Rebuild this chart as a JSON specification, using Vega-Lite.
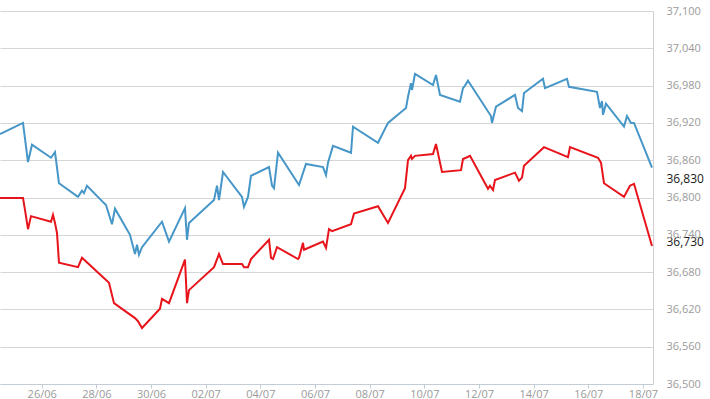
{
  "$schema": "https://vega.github.io/schema/vega-lite/v6.json",
  "width": 653,
  "height": 373,
  "autosize": {"type": "none"},
  "padding": {"left": 0, "top": 11, "right": 57, "bottom": 15},
  "background": "white",
  "config": {"view": {"stroke": null}, "axis": {"labelOverlap": false}},
  "datasets": {
    "ban": [
      {"t": "2024-06-24T11:23", "v": 36902}, {"t": "2024-06-25T07:35", "v": 36920}, {"t": "2024-06-25T11:58", "v": 36857}, {"t": "2024-06-25T15:29", "v": 36885},
      {"t": "2024-06-26T08:10", "v": 36864}, {"t": "2024-06-26T11:41", "v": 36873}, {"t": "2024-06-26T15:11", "v": 36823},
      {"t": "2024-06-27T07:53", "v": 36801}, {"t": "2024-06-27T11:23", "v": 36811}, {"t": "2024-06-27T13:09", "v": 36807}, {"t": "2024-06-27T15:47", "v": 36819},
      {"t": "2024-06-28T06:43", "v": 36791}, {"t": "2024-06-28T08:28", "v": 36788}, {"t": "2024-06-28T13:44", "v": 36757}, {"t": "2024-06-28T16:22", "v": 36782},
      {"t": "2024-06-29T05:32", "v": 36740}, {"t": "2024-06-29T09:56", "v": 36709}, {"t": "2024-06-29T11:41", "v": 36724}, {"t": "2024-06-29T13:26", "v": 36708}, {"t": "2024-06-29T16:05", "v": 36720},
      {"t": "2024-06-30T09:38", "v": 36761}, {"t": "2024-06-30T15:47", "v": 36729},
      {"t": "2024-07-01T05:50", "v": 36783}, {"t": "2024-07-01T07:36", "v": 36732}, {"t": "2024-07-01T09:21", "v": 36759},
      {"t": "2024-07-02T07:19", "v": 36796}, {"t": "2024-07-02T09:56", "v": 36819}, {"t": "2024-07-02T11:42", "v": 36796}, {"t": "2024-07-02T15:13", "v": 36841},
      {"t": "2024-07-03T07:53", "v": 36801}, {"t": "2024-07-03T09:39", "v": 36785}, {"t": "2024-07-03T13:10", "v": 36801}, {"t": "2024-07-03T15:48", "v": 36835},
      {"t": "2024-07-04T07:37", "v": 36849}, {"t": "2024-07-04T10:14", "v": 36819}, {"t": "2024-07-04T12:00", "v": 36815}, {"t": "2024-07-04T15:31", "v": 36872},
      {"t": "2024-07-05T09:57", "v": 36820}, {"t": "2024-07-05T16:06", "v": 36854},
      {"t": "2024-07-06T07:01", "v": 36849}, {"t": "2024-07-06T09:40", "v": 36836}, {"t": "2024-07-06T11:25", "v": 36856}, {"t": "2024-07-06T15:48", "v": 36883},
      {"t": "2024-07-07T07:37", "v": 36872}, {"t": "2024-07-07T09:22", "v": 36914},
      {"t": "2024-07-08T07:19", "v": 36888}, {"t": "2024-07-08T16:06", "v": 36920},
      {"t": "2024-07-09T07:55", "v": 36944}, {"t": "2024-07-09T09:40", "v": 36962}, {"t": "2024-07-09T12:18", "v": 36984}, {"t": "2024-07-09T13:11", "v": 36973}, {"t": "2024-07-09T15:49", "v": 36999},
      {"t": "2024-07-10T07:37", "v": 36981}, {"t": "2024-07-10T10:15", "v": 36997}, {"t": "2024-07-10T13:46", "v": 36965},
      {"t": "2024-07-11T07:20", "v": 36954}, {"t": "2024-07-11T09:58", "v": 36976}, {"t": "2024-07-11T11:43", "v": 36980}, {"t": "2024-07-11T14:21", "v": 36988}, {"t": "2024-07-11T16:07", "v": 36983},
      {"t": "2024-07-12T08:48", "v": 36936}, {"t": "2024-07-12T10:33", "v": 36931}, {"t": "2024-07-12T11:26", "v": 36920}, {"t": "2024-07-12T14:56", "v": 36946},
      {"t": "2024-07-13T07:38", "v": 36965}, {"t": "2024-07-13T10:16", "v": 36944}, {"t": "2024-07-13T13:47", "v": 36939}, {"t": "2024-07-13T15:32", "v": 36968},
      {"t": "2024-07-14T08:13", "v": 36991}, {"t": "2024-07-14T09:58", "v": 36976},
      {"t": "2024-07-15T05:17", "v": 36991}, {"t": "2024-07-15T07:03", "v": 36978},
      {"t": "2024-07-16T07:38", "v": 36970}, {"t": "2024-07-16T10:16", "v": 36944}, {"t": "2024-07-16T12:02", "v": 36955}, {"t": "2024-07-16T12:55", "v": 36933}, {"t": "2024-07-16T15:32", "v": 36951},
      {"t": "2024-07-17T07:21", "v": 36914}, {"t": "2024-07-17T09:59", "v": 36931}, {"t": "2024-07-17T13:30", "v": 36920}, {"t": "2024-07-17T16:08", "v": 36920},
      {"t": "2024-07-18T07:56", "v": 36848}
    ],
    "mua": [
      {"t": "2024-06-24T11:23", "v": 36799}, {"t": "2024-06-25T07:35", "v": 36799}, {"t": "2024-06-25T09:20", "v": 36780}, {"t": "2024-06-25T11:58", "v": 36749}, {"t": "2024-06-25T14:36", "v": 36770},
      {"t": "2024-06-26T08:10", "v": 36761}, {"t": "2024-06-26T09:55", "v": 36772}, {"t": "2024-06-26T11:41", "v": 36759}, {"t": "2024-06-26T13:26", "v": 36743}, {"t": "2024-06-26T15:11", "v": 36695},
      {"t": "2024-06-27T07:53", "v": 36688}, {"t": "2024-06-27T11:23", "v": 36703},
      {"t": "2024-06-28T11:06", "v": 36663}, {"t": "2024-06-28T15:29", "v": 36630},
      {"t": "2024-06-29T09:56", "v": 36606}, {"t": "2024-06-29T12:34", "v": 36601}, {"t": "2024-06-29T16:05", "v": 36590},
      {"t": "2024-06-30T07:53", "v": 36621}, {"t": "2024-06-30T09:38", "v": 36637}, {"t": "2024-06-30T15:47", "v": 36630},
      {"t": "2024-07-01T05:50", "v": 36700}, {"t": "2024-07-01T07:36", "v": 36630}, {"t": "2024-07-01T09:21", "v": 36651},
      {"t": "2024-07-02T07:19", "v": 36688}, {"t": "2024-07-02T11:42", "v": 36709}, {"t": "2024-07-02T15:13", "v": 36693},
      {"t": "2024-07-03T07:53", "v": 36693}, {"t": "2024-07-03T09:39", "v": 36688}, {"t": "2024-07-03T13:10", "v": 36688}, {"t": "2024-07-03T15:48", "v": 36701},
      {"t": "2024-07-04T07:37", "v": 36732}, {"t": "2024-07-04T09:22", "v": 36703}, {"t": "2024-07-04T11:07", "v": 36701}, {"t": "2024-07-04T14:38", "v": 36720},
      {"t": "2024-07-05T09:04", "v": 36701}, {"t": "2024-07-05T09:57", "v": 36703}, {"t": "2024-07-05T13:28", "v": 36727}, {"t": "2024-07-05T14:20", "v": 36716},
      {"t": "2024-07-06T07:01", "v": 36729}, {"t": "2024-07-06T09:40", "v": 36719}, {"t": "2024-07-06T12:17", "v": 36749}, {"t": "2024-07-06T14:56", "v": 36746},
      {"t": "2024-07-07T07:37", "v": 36757}, {"t": "2024-07-07T10:15", "v": 36774},
      {"t": "2024-07-08T07:19", "v": 36786}, {"t": "2024-07-08T16:06", "v": 36759},
      {"t": "2024-07-09T07:02", "v": 36815}, {"t": "2024-07-09T09:40", "v": 36860}, {"t": "2024-07-09T12:18", "v": 36867}, {"t": "2024-07-09T13:11", "v": 36862}, {"t": "2024-07-09T15:49", "v": 36867},
      {"t": "2024-07-10T07:37", "v": 36870}, {"t": "2024-07-10T10:15", "v": 36886}, {"t": "2024-07-10T15:32", "v": 36841},
      {"t": "2024-07-11T08:13", "v": 36844}, {"t": "2024-07-11T09:58", "v": 36862}, {"t": "2024-07-11T12:36", "v": 36864}, {"t": "2024-07-11T16:07", "v": 36867},
      {"t": "2024-07-12T07:55", "v": 36814}, {"t": "2024-07-12T09:40", "v": 36819}, {"t": "2024-07-12T12:19", "v": 36812}, {"t": "2024-07-12T14:04", "v": 36828},
      {"t": "2024-07-13T07:38", "v": 36840}, {"t": "2024-07-13T11:08", "v": 36827}, {"t": "2024-07-13T13:47", "v": 36832}, {"t": "2024-07-13T15:32", "v": 36851},
      {"t": "2024-07-14T09:06", "v": 36881},
      {"t": "2024-07-15T06:10", "v": 36865}, {"t": "2024-07-15T07:56", "v": 36881},
      {"t": "2024-07-16T08:31", "v": 36864}, {"t": "2024-07-16T11:09", "v": 36856}, {"t": "2024-07-16T13:47", "v": 36823},
      {"t": "2024-07-17T07:21", "v": 36801}, {"t": "2024-07-17T12:37", "v": 36819}, {"t": "2024-07-17T16:08", "v": 36822},
      {"t": "2024-07-18T07:56", "v": 36722}
    ]
  },
  "encoding": {
    "x": {
      "field": "t", "type": "temporal", "title": null,
      "scale": {"domain": [{"year": 2024, "month": 6, "date": 24, "hours": 11, "minutes": 23}, {"year": 2024, "month": 7, "date": 18, "hours": 8, "minutes": 49}]},
      "axis": {
        "format": "%d/%m",
        "values": [
          {"year": 2024, "month": 6, "date": 24},
          {"year": 2024, "month": 6, "date": 26}, {"year": 2024, "month": 6, "date": 28}, {"year": 2024, "month": 6, "date": 30},
          {"year": 2024, "month": 7, "date": 2}, {"year": 2024, "month": 7, "date": 4}, {"year": 2024, "month": 7, "date": 6},
          {"year": 2024, "month": 7, "date": 8}, {"year": 2024, "month": 7, "date": 10}, {"year": 2024, "month": 7, "date": 12},
          {"year": 2024, "month": 7, "date": 14}, {"year": 2024, "month": 7, "date": 16}, {"year": 2024, "month": 7, "date": 18}
        ],
        "grid": false,
        "domainColor": "#c4ccd6",
        "domainWidth": 1,
        "ticks": true, "tickSize": 4, "tickColor": "#c4ccd6",
        "labelColor": "#9a9a9a", "labelFont": "Open Sans", "labelFontSize": 11,
        "labelPadding": 0, "labelFlush": false, "labelOverlap": false
      }
    },
    "y": {
      "field": "v", "type": "quantitative", "title": null,
      "scale": {"domain": [36500, 37100], "zero": false, "nice": false},
      "axis": {
        "orient": "right",
        "values": [36500, 36560, 36620, 36680, 36740, 36800, 36860, 36920, 36980, 37040, 37100, 36730, 36830],
        "format": ",d",
        "grid": true,
        "gridColor": {"condition": {"test": "datum.value == 36730 || datum.value == 36830", "value": "transparent"}, "value": "#d6d6d6"},
        "domain": true, "domainColor": "#cfcfcf",
        "ticks": false,
        "labelColor": {"condition": {"test": "datum.value == 36730 || datum.value == 36830", "value": "#1a1a1a"}, "value": "#9a9a9a"},
        "labelFontSize": {"condition": {"test": "datum.value == 36730 || datum.value == 36830", "value": 12}, "value": 11},
        "labelFont": "Open Sans",
        "labelPadding": 13, "labelOverlap": false, "labelFlush": false
      }
    }
  },
  "layer": [
    {
      "data": {"name": "mua"},
      "mark": {"type": "line", "color": "#E8141B", "strokeWidth": 2, "strokeJoin": "miter", "clip": true}
    },
    {
      "data": {"name": "ban"},
      "mark": {"type": "line", "color": "#4696C8", "strokeWidth": 2, "strokeJoin": "miter", "clip": true}
    }
  ]
}
